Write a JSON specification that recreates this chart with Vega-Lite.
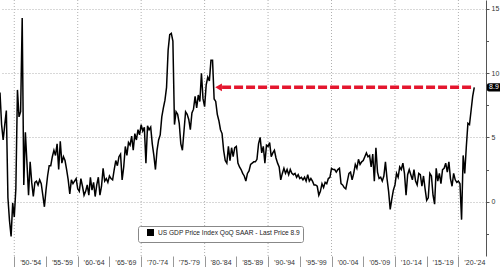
{
 "$schema": "https://vega.github.io/schema/vega-lite/v6.json",
 "width": 486, "height": 256,
 "autosize": {"type": "none"},
 "padding": {"left": 0, "top": 0, "right": 14, "bottom": 11},
 "config": {"view": {"stroke": null}, "font": "Liberation Sans",
   "axisX": {"title": null, "grid": false, "domain": false, "ticks": true, "tickSize": 11, "tickColor": "#999", "tickWidth": 1,
        "labelPadding": -9, "labelOffset": 15.9, "labelFontSize": 7, "labelColor": "#333",
        "labelOverlap": false, "labelBound": false, "labelFlush": false}},
 "resolve": {"axis": {"x": "independent", "y": "independent"}},
 "layer": [
  {"data": {"values": [{"t":1950},{"t":1960},{"t":1970},{"t":1980},{"t":1990},{"t":2000},{"t":2010},{"t":2020}]},
   "mark": {"type": "rule", "color": "#b0b0b0", "strokeDash": [1, 2], "strokeWidth": 1},
   "encoding": {"x": {"field": "t", "type": "quantitative",
      "axis": {"orient": "bottom", "values": [1955,1965,1975,1985,1995,2005,2015],
        "labelExpr": "'’' + substring(toString(datum.value), 2, 4) + '-’' + substring(toString(datum.value + 4), 2, 4)"}}}},
  {"data": {"values": [
{"t":1947.75,"v":8.5},
{"t":1948,"v":6.0},{"t":1948.25,"v":4.8},{"t":1948.5,"v":6.0},{"t":1948.75,"v":7.1},
{"t":1949,"v":0.3},{"t":1949.25,"v":-1.5},{"t":1949.5,"v":-2.7},{"t":1949.75,"v":-0.1},
{"t":1950,"v":-1.2},{"t":1950.25,"v":1.0},{"t":1950.5,"v":8.7},{"t":1950.75,"v":6.6},
{"t":1951,"v":7.0},{"t":1951.25,"v":14.3},{"t":1951.5,"v":1.3},{"t":1951.75,"v":5.4},
{"t":1952,"v":3.0},{"t":1952.25,"v":0.5},{"t":1952.5,"v":3.1},{"t":1952.75,"v":1.5},
{"t":1953,"v":0.4},{"t":1953.25,"v":1.5},{"t":1953.5,"v":1.6},{"t":1953.75,"v":1.3},
{"t":1954,"v":1.7},{"t":1954.25,"v":1.4},{"t":1954.5,"v":0.5},{"t":1954.75,"v":-0.4},
{"t":1955,"v":0.9},{"t":1955.25,"v":2.0},{"t":1955.5,"v":2.8},{"t":1955.75,"v":2.8},
{"t":1956,"v":3.5},{"t":1956.25,"v":4.0},{"t":1956.5,"v":3.6},{"t":1956.75,"v":4.5},
{"t":1957,"v":2.5},{"t":1957.25,"v":4.7},{"t":1957.5,"v":3.0},{"t":1957.75,"v":3.5},
{"t":1958,"v":3.2},{"t":1958.25,"v":2.5},{"t":1958.5,"v":1.7},{"t":1958.75,"v":0.6},
{"t":1959,"v":1.7},{"t":1959.25,"v":1.4},{"t":1959.5,"v":1.6},{"t":1959.75,"v":1.8},
{"t":1960,"v":1.0},{"t":1960.25,"v":0.8},{"t":1960.5,"v":1.8},{"t":1960.75,"v":1.2},
{"t":1961,"v":0.5},{"t":1961.25,"v":0.8},{"t":1961.5,"v":1.3},{"t":1961.75,"v":0.5},
{"t":1962,"v":1.9},{"t":1962.25,"v":0.9},{"t":1962.5,"v":1.5},{"t":1962.75,"v":0.4},
{"t":1963,"v":1.3},{"t":1963.25,"v":1.9},{"t":1963.5,"v":0.5},{"t":1963.75,"v":1.2},
{"t":1964,"v":2.6},{"t":1964.25,"v":1.6},{"t":1964.5,"v":1.8},{"t":1964.75,"v":1.5},
{"t":1965,"v":2.0},{"t":1965.25,"v":1.8},{"t":1965.5,"v":1.7},{"t":1965.75,"v":2.5},
{"t":1966,"v":3.2},{"t":1966.25,"v":2.8},{"t":1966.5,"v":3.5},{"t":1966.75,"v":3.7},
{"t":1967,"v":1.7},{"t":1967.25,"v":2.7},{"t":1967.5,"v":4.3},{"t":1967.75,"v":3.6},
{"t":1968,"v":4.6},{"t":1968.25,"v":4.4},{"t":1968.5,"v":5.1},{"t":1968.75,"v":4.0},
{"t":1969,"v":5.3},{"t":1969.25,"v":4.8},{"t":1969.5,"v":5.6},{"t":1969.75,"v":5.2},
{"t":1970,"v":6.0},{"t":1970.25,"v":5.5},{"t":1970.5,"v":5.8},{"t":1970.75,"v":3.0},
{"t":1971,"v":5.9},{"t":1971.25,"v":5.6},{"t":1971.5,"v":5.8},{"t":1971.75,"v":4.5},
{"t":1972,"v":3.6},{"t":1972.25,"v":2.5},{"t":1972.5,"v":4.0},{"t":1972.75,"v":4.8},
{"t":1973,"v":5.2},{"t":1973.25,"v":6.6},{"t":1973.5,"v":7.3},{"t":1973.75,"v":7.9},
{"t":1974,"v":8.9},{"t":1974.25,"v":11.8},{"t":1974.5,"v":13.0},{"t":1974.75,"v":13.1},
{"t":1975,"v":12.5},{"t":1975.25,"v":6.0},{"t":1975.5,"v":7.0},{"t":1975.75,"v":6.8},
{"t":1976,"v":6.1},{"t":1976.25,"v":4.5},{"t":1976.5,"v":4.0},{"t":1976.75,"v":5.5},
{"t":1977,"v":7.0},{"t":1977.25,"v":6.8},{"t":1977.5,"v":6.4},{"t":1977.75,"v":5.6},
{"t":1978,"v":6.9},{"t":1978.25,"v":7.2},{"t":1978.5,"v":8.2},{"t":1978.75,"v":7.3},
{"t":1979,"v":8.3},{"t":1979.25,"v":7.8},{"t":1979.5,"v":10.0},{"t":1979.75,"v":8.0},
{"t":1980,"v":7.4},{"t":1980.25,"v":9.1},{"t":1980.5,"v":9.7},{"t":1980.75,"v":9.4},
{"t":1981,"v":11.0},{"t":1981.25,"v":11.0},{"t":1981.5,"v":8.0},{"t":1981.75,"v":7.8},
{"t":1982,"v":6.8},{"t":1982.25,"v":6.3},{"t":1982.5,"v":5.6},{"t":1982.75,"v":5.3},
{"t":1983,"v":4.0},{"t":1983.25,"v":3.2},{"t":1983.5,"v":3.0},{"t":1983.75,"v":4.3},
{"t":1984,"v":3.2},{"t":1984.25,"v":4.2},{"t":1984.5,"v":3.5},{"t":1984.75,"v":4.2},
{"t":1985,"v":4.3},{"t":1985.25,"v":3.0},{"t":1985.5,"v":2.7},{"t":1985.75,"v":2.5},
{"t":1986,"v":2.2},{"t":1986.25,"v":2.0},{"t":1986.5,"v":1.6},{"t":1986.75,"v":2.2},
{"t":1987,"v":2.4},{"t":1987.25,"v":2.9},{"t":1987.5,"v":3.0},{"t":1987.75,"v":3.1},
{"t":1988,"v":3.1},{"t":1988.25,"v":3.3},{"t":1988.5,"v":4.5},{"t":1988.75,"v":5.0},
{"t":1989,"v":3.8},{"t":1989.25,"v":4.3},{"t":1989.5,"v":3.0},{"t":1989.75,"v":4.4},
{"t":1990,"v":4.3},{"t":1990.25,"v":4.6},{"t":1990.5,"v":3.5},{"t":1990.75,"v":3.8},
{"t":1991,"v":4.0},{"t":1991.25,"v":3.4},{"t":1991.5,"v":3.0},{"t":1991.75,"v":2.7},
{"t":1992,"v":1.7},{"t":1992.25,"v":2.2},{"t":1992.5,"v":2.6},{"t":1992.75,"v":2.2},
{"t":1993,"v":2.5},{"t":1993.25,"v":2.1},{"t":1993.5,"v":2.5},{"t":1993.75,"v":2.2},
{"t":1994,"v":2.1},{"t":1994.25,"v":2.2},{"t":1994.5,"v":1.9},{"t":1994.75,"v":2.1},
{"t":1995,"v":1.8},{"t":1995.25,"v":1.9},{"t":1995.5,"v":1.7},{"t":1995.75,"v":1.9},
{"t":1996,"v":1.6},{"t":1996.25,"v":2.1},{"t":1996.5,"v":1.6},{"t":1996.75,"v":1.8},
{"t":1997,"v":1.6},{"t":1997.25,"v":1.3},{"t":1997.5,"v":1.3},{"t":1997.75,"v":1.2},
{"t":1998,"v":0.5},{"t":1998.25,"v":0.8},{"t":1998.5,"v":1.4},{"t":1998.75,"v":1.1},
{"t":1999,"v":1.5},{"t":1999.25,"v":1.4},{"t":1999.5,"v":1.8},{"t":1999.75,"v":1.9},
{"t":2000,"v":2.6},{"t":2000.25,"v":2.5},{"t":2000.5,"v":2.5},{"t":2000.75,"v":2.3},
{"t":2001,"v":2.5},{"t":2001.25,"v":2.6},{"t":2001.5,"v":1.4},{"t":2001.75,"v":1.3},
{"t":2002,"v":1.1},{"t":2002.25,"v":1.0},{"t":2002.5,"v":1.6},{"t":2002.75,"v":2.2},
{"t":2003,"v":2.3},{"t":2003.25,"v":1.7},{"t":2003.5,"v":2.2},{"t":2003.75,"v":2.9},
{"t":2004,"v":2.6},{"t":2004.25,"v":3.3},{"t":2004.5,"v":2.9},{"t":2004.75,"v":3.1},
{"t":2005,"v":3.2},{"t":2005.25,"v":3.5},{"t":2005.5,"v":3.8},{"t":2005.75,"v":3.5},
{"t":2006,"v":3.6},{"t":2006.25,"v":2.7},{"t":2006.5,"v":3.7},{"t":2006.75,"v":1.6},
{"t":2007,"v":4.2},{"t":2007.25,"v":2.3},{"t":2007.5,"v":1.8},{"t":2007.75,"v":1.9},
{"t":2008,"v":1.6},{"t":2008.25,"v":2.0},{"t":2008.5,"v":3.1},{"t":2008.75,"v":1.8},
{"t":2009,"v":0.8},{"t":2009.25,"v":-0.6},{"t":2009.5,"v":0.2},{"t":2009.75,"v":0.9},
{"t":2010,"v":1.3},{"t":2010.25,"v":2.2},{"t":2010.5,"v":1.9},{"t":2010.75,"v":2.7},
{"t":2011,"v":2.5},{"t":2011.25,"v":3.0},{"t":2011.5,"v":2.2},{"t":2011.75,"v":0.5},
{"t":2012,"v":2.1},{"t":2012.25,"v":2.5},{"t":2012.5,"v":2.1},{"t":2012.75,"v":1.7},
{"t":2013,"v":2.5},{"t":2013.25,"v":1.6},{"t":2013.5,"v":1.3},{"t":2013.75,"v":2.2},
{"t":2014,"v":2.1},{"t":2014.25,"v":1.2},{"t":2014.5,"v":2.0},{"t":2014.75,"v":1.0},
{"t":2015,"v":0.1},{"t":2015.25,"v":0.3},{"t":2015.5,"v":2.2},{"t":2015.75,"v":2.0},
{"t":2016,"v":0.5},{"t":2016.25,"v":-0.2},{"t":2016.5,"v":2.6},{"t":2016.75,"v":1.6},
{"t":2017,"v":2.2},{"t":2017.25,"v":1.4},{"t":2017.5,"v":2.5},{"t":2017.75,"v":2.6},
{"t":2018,"v":3.0},{"t":2018.25,"v":2.3},{"t":2018.5,"v":3.1},{"t":2018.75,"v":1.8},
{"t":2019,"v":1.2},{"t":2019.25,"v":2.2},{"t":2019.5,"v":1.7},{"t":2019.75,"v":1.5},
{"t":2020,"v":1.6},{"t":2020.25,"v":1.4},{"t":2020.5,"v":-1.4},{"t":2020.75,"v":3.6},
{"t":2021,"v":2.2},{"t":2021.25,"v":4.3},{"t":2021.5,"v":6.1},{"t":2021.75,"v":6.0},
{"t":2022,"v":7.1},{"t":2022.25,"v":8.2},{"t":2022.5,"v":8.9}
  ]},
   "mark": {"type": "line", "strokeWidth": 1.5},
   "encoding": {
    "x": {"field": "t", "type": "quantitative",
      "scale": {"domain": [1947.75, 2024.35], "nice": false, "zero": false},
      "axis": {"orient": "bottom", "values": [1950,1960,1970,1980,1990,2000,2010,2020],
        "labelExpr": "'’' + substring(toString(datum.value), 2, 4) + '-’' + substring(toString(datum.value + 4), 2, 4)"}},
    "y": {"field": "v", "type": "quantitative",
      "scale": {"domain": [-4.23, 15.7], "nice": false, "zero": false},
      "axis": {"title": null, "orient": "right", "values": [0, 5, 10, 15],
        "grid": true, "gridColor": "#b0b0b0", "gridDash": [1, 2],
        "domainColor": "#555", "tickColor": "#555", "tickSize": 3, "labelPadding": 2,
        "labelFontSize": 7, "labelColor": "#333", "labelOverlap": false}},
    "color": {"datum": "US GDP Price Index QoQ SAAR - Last Price 8.9", "type": "nominal",
      "scale": {"range": ["black"]},
      "legend": {"title": null, "orient": "none", "legendX": 138, "legendY": 226, "padding": 3,
        "strokeColor": "#888", "fillColor": "white", "cornerRadius": 2, "labelLimit": 400,
        "symbolType": "square", "symbolSize": 30, "symbolFillColor": "black", "symbolStrokeColor": "black",
        "symbolOffset": 6, "labelFontSize": 6.6, "labelColor": "#222"}}
   }},
  {"data": {"values": [{"t": 1982.75, "t2": 2022.45, "v": 8.9}]},
   "mark": {"type": "rule", "color": "#e4162e", "strokeWidth": 3.5, "strokeDash": [9, 3]},
   "encoding": {"x": {"field": "t", "type": "quantitative", "axis": null}, "x2": {"field": "t2"},
     "y": {"field": "v", "type": "quantitative",
       "axis": {"title": null, "orient": "right", "values": [-2.5, 2.5, 7.5, 12.5], "labels": false, "grid": false, "domain": false,
         "tickColor": "#555", "tickSize": 2.5}}}},
  {"data": {"values": [{"t": 1982.2, "v": 8.9}]},
   "mark": {"type": "point", "shape": "triangle-left", "filled": true, "color": "#e4162e", "size": 60, "opacity": 1},
   "encoding": {"x": {"field": "t", "type": "quantitative", "axis": null}, "y": {"field": "v", "type": "quantitative", "axis": null}}},
  {"data": {"values": [{"t": 2024.5, "t2": 2026.8, "v": 8.58, "v2": 9.22}]},
   "mark": {"type": "rect", "color": "black", "cornerRadius": 2},
   "encoding": {"x": {"field": "t", "type": "quantitative", "axis": null}, "x2": {"field": "t2"}, "y": {"field": "v", "type": "quantitative", "axis": null}, "y2": {"field": "v2"}}},
  {"data": {"values": [{"t": 2025.6, "v": 8.9, "label": "8.9"}]},
   "mark": {"type": "text", "color": "white", "fontSize": 7, "align": "center", "baseline": "middle"},
   "encoding": {"x": {"field": "t", "type": "quantitative", "axis": null}, "y": {"field": "v", "type": "quantitative", "axis": null}, "text": {"field": "label"}}}
 ]
}
